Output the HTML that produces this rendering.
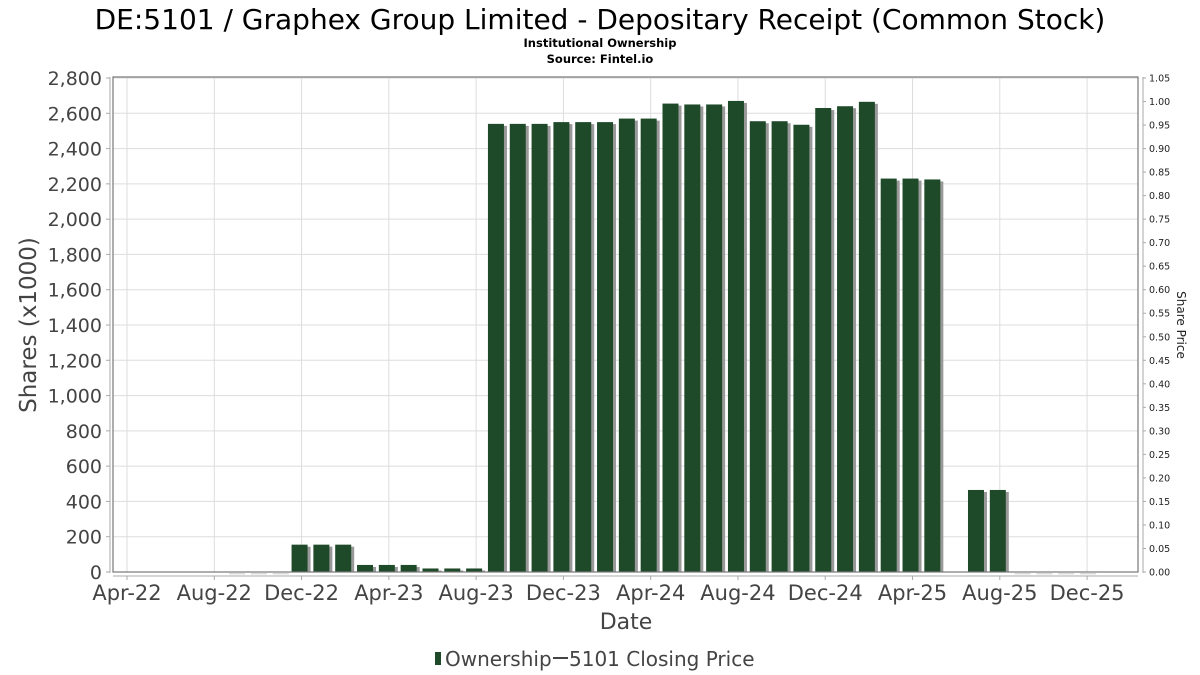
<!DOCTYPE html>
<html><head><meta charset="utf-8"><style>
body{margin:0;background:#fff;}
svg{display:block;font-family:"DejaVu Sans","Liberation Sans",sans-serif;}
</style></head><body>
<svg id="chart" width="1200" height="675" xmlns="http://www.w3.org/2000/svg">
<text x="600" y="29" font-size="28" text-anchor="middle" fill="#000">DE:5101 / Graphex Group Limited - Depositary Receipt (Common Stock)</text>
<text x="600" y="47" font-size="11.5" font-weight="bold" text-anchor="middle">Institutional Ownership</text>
<text x="600" y="63" font-size="11.5" font-weight="bold" text-anchor="middle">Source: Fintel.io</text>
<g id="grid"></g>
<g id="bars"></g>
<rect x="113" y="77" width="1025" height="495" fill="none" stroke="#777" stroke-width="1.2"/>
<line x1="110" y1="77" x2="110" y2="573" stroke="#aaa"/>
<line x1="113" y1="576" x2="1138" y2="576" stroke="#aaa"/>
<line x1="1143" y1="77" x2="1143" y2="573" stroke="#aaa"/>
<g id="yticks"></g>
<g id="rticks"></g>
<g id="xticks"></g>
<text transform="translate(36,325) rotate(-90)" font-size="23" fill="#444" text-anchor="middle">Shares (x1000)</text>
<text transform="translate(1177,325) rotate(90)" font-size="12" fill="#222" text-anchor="middle">Share Price</text>
<text x="626" y="629" font-size="22" fill="#444" text-anchor="middle">Date</text>
<g>
<rect x="435" y="652" width="6" height="13" fill="#1e4a2a"/>
<text x="445" y="666" font-size="20" fill="#444">Ownership</text>
<line x1="553" y1="658" x2="568" y2="658" stroke="#444" stroke-width="2"/>
<text x="569" y="666" font-size="20" fill="#444">5101 Closing Price</text>
</g>
</svg>
<script>
const months = ["2022-09","2022-10","2022-11","2022-12","2023-01","2023-02","2023-03","2023-04","2023-05","2023-06","2023-07","2023-08","2023-09","2023-10","2023-11","2023-12","2024-01","2024-02","2024-03","2024-04","2024-05","2024-06","2024-07","2024-08","2024-09","2024-10","2024-11","2024-12","2025-01","2025-02","2025-03","2025-04","2025-05","2025-07","2025-08","2025-09","2025-10","2025-11","2025-12"];
const shares = [2,2,2,155,155,155,40,40,40,20,20,20,2540,2540,2540,2550,2550,2550,2570,2570,2655,2650,2650,2670,2555,2555,2535,2630,2640,2665,2230,2230,2225,465,465,2,2,2,2];
const yTicks = [0,200,400,600,800,1000,1200,1400,1600,1800,2000,2200,2400,2600,2800];
const rTicks = [0,0.05,0.1,0.15,0.2,0.25,0.3,0.35,0.4,0.45,0.5,0.55,0.6,0.65,0.7,0.75,0.8,0.85,0.9,0.95,1.0,1.05];
const xTickLabels = ["Apr-22","Aug-22","Dec-22","Apr-23","Aug-23","Dec-23","Apr-24","Aug-24","Dec-24","Apr-25","Aug-25","Dec-25"];
const xTickMonths = ["2022-04","2022-08","2022-12","2023-04","2023-08","2023-12","2024-04","2024-08","2024-12","2025-04","2025-08","2025-12"];

const NS="http://www.w3.org/2000/svg";
function mi(s){const [y,m]=s.split("-").map(Number);return (y-2022)*12+(m-4);}
function xS(s){return 127+mi(s)*21.82;}
function yS(v){return 572-v/2800*494;}
function rS(v){return 572-v/1.05*494;}
function mk(t,a,p){const e=document.createElementNS(NS,t);for(const k in a)e.setAttribute(k,a[k]);p.appendChild(e);return e;}
const grid=document.getElementById('grid');
yTicks.forEach(v=>{const l=mk('line',{x1:113,x2:1138,y1:yS(v),y2:yS(v),stroke:'#ddd'},grid);

});
xTickMonths.forEach(m=>{const l=mk('line',{x1:xS(m),x2:xS(m),y1:77,y2:572,stroke:'#ddd'},grid);

});
const bars=document.getElementById('bars');
months.forEach((m,i)=>{const cx=xS(m)-2,y=yS(shares[i]),h=572-y;
const s=mk('rect',{x:cx-8+3,y:y+2,width:16,height:Math.max(h-2,0.5),fill:'#999'},bars);


const b=mk('rect',{x:cx-8,y:y,width:16,height:Math.max(h,0.6),fill:'#1e4a2a'},bars);

});
const yt=document.getElementById('yticks');
yTicks.forEach(v=>{const t=mk('text',{x:102,y:yS(v)+7,'font-size':19,fill:'#444','text-anchor':'end'},yt);t.textContent=v.toLocaleString('en-US');


const l=mk('line',{x1:106,x2:110,y1:yS(v),y2:yS(v),stroke:'#aaa'},yt);

});
const rt=document.getElementById('rticks');
rTicks.forEach(v=>{const t=mk('text',{x:1149,y:rS(v)+3.5,'font-size':9.5,fill:'#222'},rt);t.textContent=v.toFixed(2);


const l=mk('line',{x1:1143,x2:1146,y1:rS(v),y2:rS(v),stroke:'#aaa'},rt);

});
const xt=document.getElementById('xticks');
xTickMonths.forEach((m,i)=>{const t=mk('text',{x:xS(m),y:600,'font-size':21,fill:'#444','text-anchor':'middle'},xt);t.textContent=xTickLabels[i];


const l=mk('line',{x1:xS(m),x2:xS(m),y1:576,y2:580,stroke:'#aaa'},xt);

});
</script>
</body></html>
